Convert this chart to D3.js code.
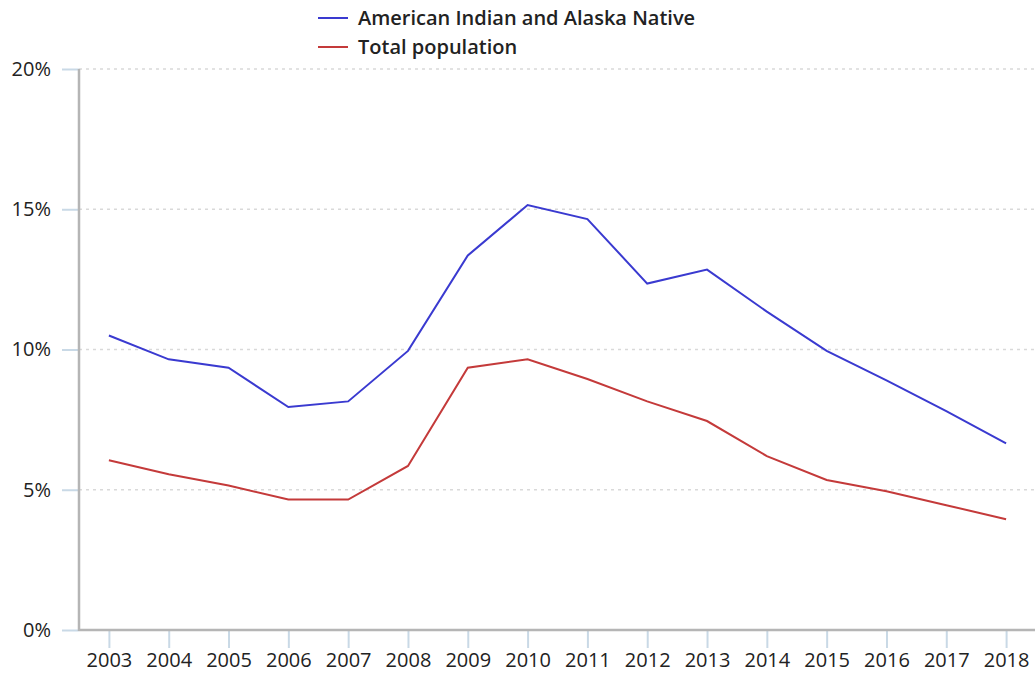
<!DOCTYPE html>
<meta charset="utf-8">
<script src="https://d3js.org/d3.v7.min.js"></script>
<style>
  body { margin: 0; background: #fff; }
  text { font-family: "Open Sans", sans-serif; }
</style>
<div id="chart"></div>
<script>
    // data
    var years = ["2003", "2004", "2005", "2006", "2007", "2008", "2009", "2010",
                 "2011", "2012", "2013", "2014", "2015", "2016", "2017", "2018"]
    var aian = [10.5, 9.65, 9.35, 7.95, 8.15, 9.95, 13.35, 15.15, 14.65, 12.35, 12.85, 11.35, 9.95, 8.9, 7.8, 6.65]
    var total = [6.05, 5.55, 5.15, 4.65, 4.65, 5.85, 9.35, 9.65, 8.95, 8.15, 7.45, 6.2, 5.35, 4.95, 4.45, 3.95]
    var yTicks = [0, 5, 10, 15, 20]
    var seriesNames = ["American Indian and Alaska Native", "Total population"]
    var seriesColors = ["#3a3ad0", "#c43a3a"]

    var width = 1035, height = 677
    var plotLeft = 79, plotBottom = 630, plotTop = 69, plotRight = 1036

    var svg = d3.select("#chart").append("svg")
        .attr("width", width)
        .attr("height", height)

    var x = d3.scalePoint().domain(years).range([plotLeft, plotRight]).padding(0.5)
    var y = d3.scaleLinear().domain([0, 20]).range([plotBottom, plotTop])

    // gridlines
    svg.selectAll(".grid").data(yTicks.slice(1)).enter().append("line")
        .attr("x1", plotLeft).attr("x2", width)
        .attr("y1", d => y(d)).attr("y2", d => y(d))
        .attr("stroke", "#d9d9d9").attr("stroke-width", 1.5)
        .attr("stroke-dasharray", "3,4")

    // y axis
    var yAxis = svg.append("g").attr("transform", "translate(" + plotLeft + ",0)")
        .call(d3.axisLeft(y).tickValues(yTicks).tickSize(17).tickPadding(11).tickFormat(d => d + "%"))
    yAxis.select(".domain").remove()
    yAxis.selectAll(".tick line").attr("stroke", "#c9d9e6").attr("stroke-width", 2)
    yAxis.selectAll(".tick text").attr("font-size", 20).attr("fill", "#222")
        .attr("font-family", "Open Sans, sans-serif")

    // x axis
    var xAxis = svg.append("g").attr("transform", "translate(0," + plotBottom + ")")
        .call(d3.axisBottom(x).tickSize(18).tickPadding(5))
    xAxis.select(".domain").remove()
    xAxis.selectAll(".tick line").attr("stroke", "#c9d9e6").attr("stroke-width", 2)
    xAxis.selectAll(".tick text").attr("font-size", 20).attr("fill", "#222")
        .attr("font-family", "Open Sans, sans-serif")

    // axis lines
    svg.append("line").attr("x1", plotLeft).attr("x2", plotLeft).attr("y1", plotTop).attr("y2", plotBottom + 1)
        .attr("stroke", "#b5b5b5").attr("stroke-width", 2.5)
    svg.append("line").attr("x1", plotLeft).attr("x2", width).attr("y1", plotBottom).attr("y2", plotBottom)
        .attr("stroke", "#b5b5b5").attr("stroke-width", 2.5)

    // lines
    var line = d3.line().x((d, i) => x(years[i])).y(d => y(d))
    ;[aian, total].forEach(function(s, k) {
        svg.append("path").datum(s)
            .attr("d", line)
            .attr("fill", "none")
            .attr("stroke", seriesColors[k])
            .attr("stroke-width", 2)
    })

    // legend
    var legend = svg.selectAll(".legend").data(seriesNames).enter().append("g")
        .attr("transform", (d, i) => "translate(318," + (18 + i * 29) + ")")
    legend.append("line").attr("x1", 0).attr("x2", 30)
        .attr("stroke", (d, i) => seriesColors[i]).attr("stroke-width", 2)
    legend.append("text").attr("x", 40).attr("dy", "0.35em")
        .attr("font-size", 20).attr("font-weight", 600).attr("fill", "#222")
        .text(d => d)
</script>
